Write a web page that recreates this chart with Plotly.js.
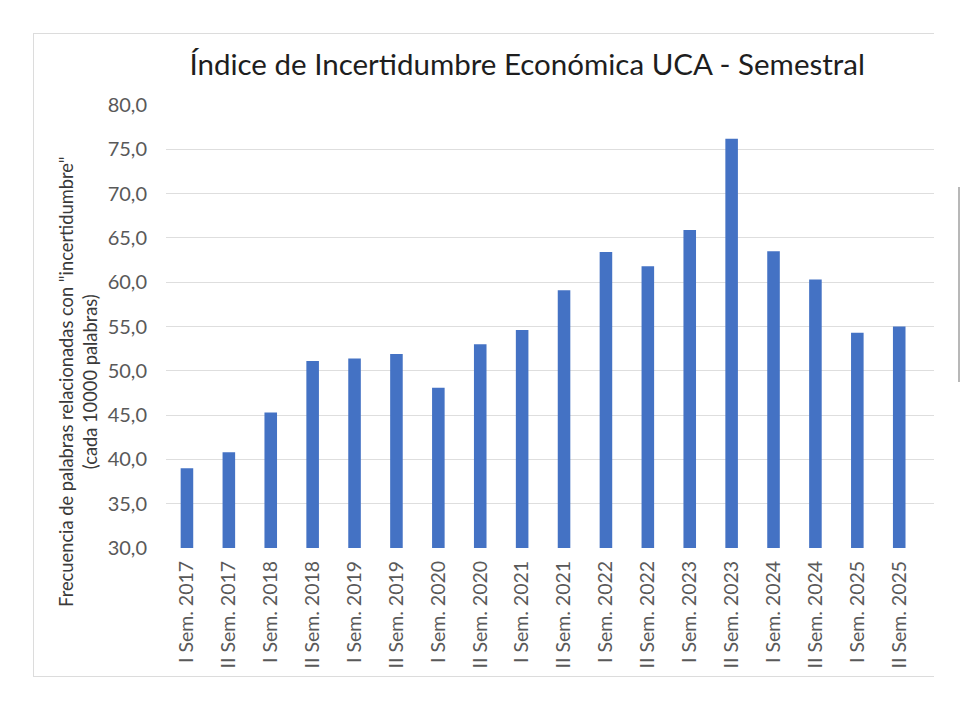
<!DOCTYPE html>
<html>
<head>
<meta charset="utf-8">
<script src="https://cdn.plot.ly/plotly-3.0.1.min.js"></script>
<style>
  body { margin:0; background:#fff; }
  #frame { position:absolute; left:33px; top:33px; width:900px; height:642px;
           border-top:1px solid #dcdcdc; border-left:1px solid #dcdcdc; border-bottom:1px solid #dcdcdc; }
  #chart { width:900px; height:642px; }
  #scroll { position:absolute; left:958px; top:187px; width:2px; height:195px; background:#b8b8b8; }
</style>
</head>
<body>
<div id="frame"><div id="chart"></div></div>
<div id="scroll"></div>
<script>
// datos
const semestres = ['I Sem. 2017','II Sem. 2017','I Sem. 2018','II Sem. 2018','I Sem. 2019','II Sem. 2019',
  'I Sem. 2020','II Sem. 2020','I Sem. 2021','II Sem. 2021','I Sem. 2022','II Sem. 2022',
  'I Sem. 2023','II Sem. 2023','I Sem. 2024','II Sem. 2024','I Sem. 2025','II Sem. 2025'];
const indice = [39.0, 40.8, 45.3, 51.1, 51.4, 51.9, 48.1, 53.0, 54.6, 59.1, 63.4, 61.8, 65.9, 76.2, 63.5, 60.3, 54.3, 55.0];
const yTicks = [30, 35, 40, 45, 50, 55, 60, 65, 70, 75, 80];

const font = 'Lato, "Open Sans", sans-serif';

const trace = {
  type:'bar', x:semestres, y:indice, width:0.3,
  marker:{color:'#4472C4'}, hoverinfo:'x+y'
};

const layout = {
  width:900, height:642,
  margin:{l:132, r:0, t:71, b:128},
  paper_bgcolor:'#fff', plot_bgcolor:'#fff',
  separators:',.',
  showlegend:false,
  font:{family:font, color:'#595959', size:18},
  title:{text:'Índice de Incertidumbre Económica UCA - Semestral',
         font:{family:font, size:29.5, color:'#1e1e1e'},
         x:0.548, xanchor:'center', y:0.952, yanchor:'middle'},
  xaxis:{type:'category', range:[-0.5, 17.83], tickangle:-90, ticks:'',
         ticklabelstandoff:8, showgrid:false, zeroline:false,
         showline:false, tickfont:{size:19.5, color:'#595959'}},
  yaxis:{range:[30, 80], tickvals:yTicks, tickformat:'.1f', ticks:'',
         ticklabelstandoff:18, gridcolor:'#dedede', gridwidth:1, zeroline:false,
         showline:false, tickfont:{size:20, color:'#595959'}},
  annotations:[{
    text:'Frecuencia de palabras relacionadas con "incertidumbre"<br>(cada 10000 palabras)',
    xref:'paper', yref:'paper', x:0, y:0.375, xanchor:'center', yanchor:'middle',
    xshift:-88, textangle:-90, showarrow:false,
    font:{family:font, size:18.3, color:'#3a3a3a'}
  }]
};

Plotly.newPlot('chart', [trace], layout, {displayModeBar:false, staticPlot:true});
</script>
</body>
</html>
